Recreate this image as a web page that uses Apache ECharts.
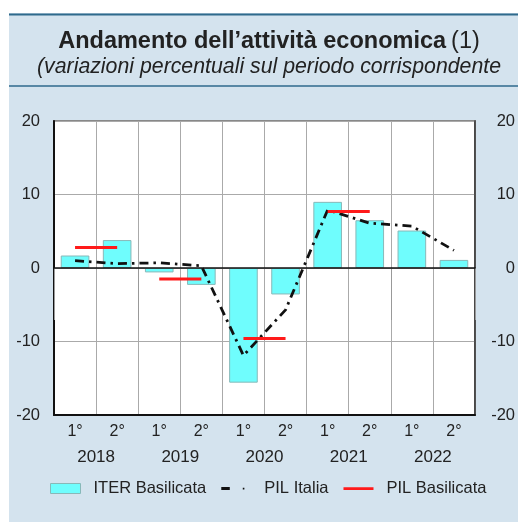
<!DOCTYPE html>
<html>
<head>
<meta charset="utf-8">
<script src="https://cdn.jsdelivr.net/npm/echarts@6/dist/echarts.min.js"></script>
<style>
  html, body { margin: 0; padding: 0; background: #fff; }
  #chart { width: 518px; height: 522px; }
</style>
</head>
<body>
<div id="chart"></div>
<script>
// semestri e anni
var semestri = ['1°', '2°', '1°', '2°', '1°', '2°', '1°', '2°', '1°', '2°'];
var anni = ['2018', '2019', '2020', '2021', '2022'];

// valori
var iterBasilicata = [1.7, 3.8, -0.6, -2.3, -15.6, -3.6, 9.0, 6.5, 5.1, 1.1];
var pilItalia = [1.0, 0.6, 0.7, 0.3, -11.9, -5.7, 7.9, 6.1, 5.7, 2.4];
var pilBasilicata = [2.8, -1.5, -9.6, 7.7]; // annuale, 2022 non disponibile

window.onload = function () {
    setChart();
}

function setChart() {
    var myChart = echarts.init(document.querySelector('#chart'));
    var font = 'Liberation Sans, Arial, sans-serif';

    // una serie per anno, cosi' le linee rosse restano separate
    var redSeries = pilBasilicata.map(function (v, i) {
        var d = semestri.map(function () { return null; });
        d[2 * i] = v;
        d[2 * i + 1] = v;
        return {
            name: 'PIL Basilicata',
            type: 'line',
            data: d,
            symbol: 'none',
            z: 4,
            lineStyle: { color: '#ff1a1a', width: 3 },
            itemStyle: { color: '#ff1a1a' }
        };
    });

    var option = {
        backgroundColor: '#d4e3ee',
        animation: false,
        textStyle: { fontFamily: font },
        graphic: [
            { type: 'rect', shape: { x: 0, y: 0, width: 518, height: 13 }, style: { fill: '#fff' }, silent: true },
            { type: 'rect', shape: { x: 0, y: 0, width: 9, height: 522 }, style: { fill: '#fff' }, silent: true },
            { type: 'line', shape: { x1: 9, y1: 14.5, x2: 518, y2: 14.5 }, style: { stroke: '#2f6a8c', lineWidth: 2 }, silent: true },
            { type: 'line', shape: { x1: 9, y1: 86, x2: 518, y2: 86 }, style: { stroke: '#2f6a8c', lineWidth: 1.5 }, silent: true }
        ],
        title: {
            text: '{b|Andamento dell\u2019attività economica} {n|(1)}',
            subtext: '(variazioni percentuali sul periodo corrispondente',
            left: 264,
            textAlign: 'center',
            top: 25,
            itemGap: 3,
            textStyle: {
                fontWeight: 'normal',
                rich: {
                    b: { fontFamily: font, fontSize: 23.5, fontWeight: 'bold', color: '#222' },
                    n: { fontFamily: font, fontSize: 23.5, fontWeight: 'normal', color: '#222' }
                }
            },
            subtextStyle: { fontFamily: font, fontSize: 21.3, fontStyle: 'italic', color: '#222' }
        },
        legend: {
            bottom: 20,
            left: 45,
            itemWidth: 30,
            itemHeight: 10,
            itemGap: 15,
            textStyle: { fontSize: 16.5, color: '#222', padding: [0, 0, 0, 8] },
            data: [
                { name: 'ITER Basilicata', icon: 'rect', itemStyle: { color: '#6ffdfd', borderColor: '#88b8b8', borderWidth: 1 } },
                { name: 'PIL Italia', icon: 'path://M0,0 L0.01,0 M30,10 L29.99,10 M0,3.5 h8.5 v3 h-8.5 Z M21.5,4.3 h1.6 v1.6 h-1.6 Z', itemStyle: { color: '#111' } },
                { name: 'PIL Basilicata', icon: 'path://M0,0 L0.01,0 M30,10 L29.99,10 M0,3.8 h30 v2.6 h-30 Z', itemStyle: { color: '#ff1a1a' } }
            ]
        },
        grid: {
            left: 54, right: 43, top: 121, bottom: 107,
            show: true, backgroundColor: '#fff', borderColor: '#888', borderWidth: 2
        },
        xAxis: [{
            type: 'category',
            data: semestri,
            position: 'bottom',
            axisLine: { onZero: false, lineStyle: { color: '#111', width: 2 } },
            axisTick: { show: false },
            axisLabel: { interval: 0, margin: 9, fontSize: 16, color: '#222' },
            splitLine: { show: true, interval: 0, lineStyle: { color: '#aaa', width: 1 } }
        }, {
            type: 'category',
            data: anni,
            position: 'bottom',
            axisLine: { show: false },
            axisTick: { show: true, length: 52, lineStyle: { color: '#999' } },
            axisLabel: { margin: 34, fontSize: 17, color: '#222' }
        }, {
            // linea dello zero
            type: 'category',
            data: semestri,
            axisLine: { show: true, onZero: true, lineStyle: { color: '#111', width: 1.5 } },
            axisTick: { show: false },
            axisLabel: { show: false },
            z: 5
        }],
        yAxis: [{
            type: 'value',
            min: -20, max: 20, interval: 10,
            position: 'left',
            axisLine: { show: true, onZero: false, lineStyle: { color: '#111', width: 2 } },
            axisTick: { show: false },
            axisLabel: { margin: 14, fontSize: 16.5, color: '#222' },
            splitLine: { lineStyle: { color: '#aaa', width: 1 } }
        }, {
            type: 'value',
            min: -20, max: 20, interval: 10,
            position: 'right',
            axisLine: { show: true, onZero: false, lineStyle: { color: '#333', width: 1.5 } },
            axisTick: { show: false },
            axisLabel: { margin: 40, align: 'right', fontSize: 16.5, color: '#222' },
            splitLine: { show: false }
        }],
        series: [{
            name: 'ITER Basilicata',
            type: 'bar',
            data: iterBasilicata,
            barWidth: '68%',
            z: 2,
            itemStyle: { color: '#6ffdfd', borderColor: '#88b8b8', borderWidth: 1 }
        }, {
            name: 'PIL Italia',
            type: 'line',
            data: pilItalia,
            symbol: 'none',
            z: 3,
            lineStyle: { color: '#111', width: 2.8, type: [9, 5, 2.5, 5] },
            itemStyle: { color: '#111' }
        }].concat(redSeries)
    };
    myChart.setOption(option);
}
</script>
</body>
</html>
